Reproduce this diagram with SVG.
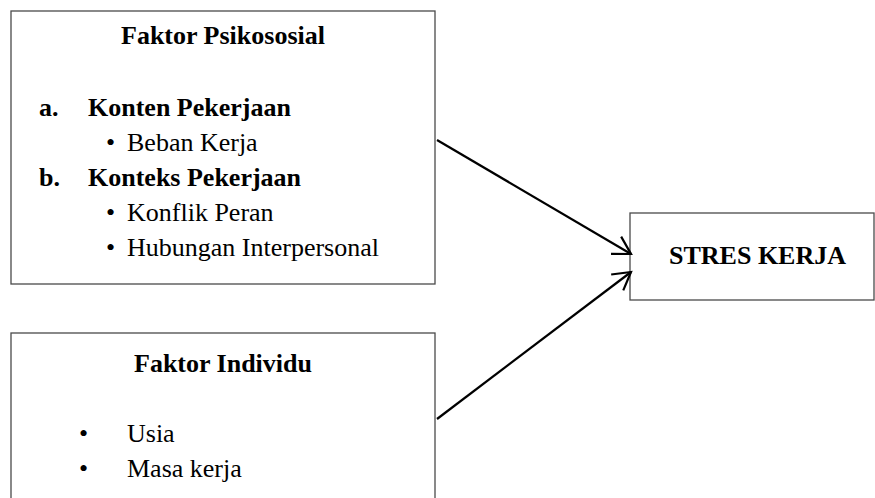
<svg xmlns="http://www.w3.org/2000/svg" width="875" height="498" viewBox="0 0 875 498">
  <style>
    .box { fill: #ffffff; stroke: #4a4a4a; stroke-width: 1.3; }
    .t { font-family: "Liberation Serif", "Times New Roman", serif; font-size: 26px; fill: #000; }
    .b { font-weight: bold; }
    .c { text-anchor: middle; }
    .conn { stroke: #000; stroke-width: 2.2; fill: none; }
  </style>
  <defs>
    <marker id="arr" markerUnits="userSpaceOnUse" markerWidth="40" markerHeight="40" refX="0" refY="0" viewBox="-20 -20 40 40" orient="auto" overflow="visible">
      <path d="M-17.3,-10 L0,0 L-17.3,10" fill="none" stroke="#000" stroke-width="2.2" stroke-linejoin="miter"/>
    </marker>
  </defs>
  <rect width="875" height="498" fill="#ffffff"/>

  <g id="faktor-psikososial">
    <rect class="box" x="11" y="11" width="424" height="273"/>
    <text class="t b c" x="223" y="44">Faktor Psikososial</text>
    <text class="t b" x="39" y="116">a.</text>
    <text class="t b" x="88" y="116">Konten Pekerjaan</text>
    <text class="t" x="106" y="151">•</text>
    <text class="t" x="127" y="151">Beban Kerja</text>
    <text class="t b" x="39" y="186">b.</text>
    <text class="t b" x="88" y="186">Konteks Pekerjaan</text>
    <text class="t" x="106" y="221">•</text>
    <text class="t" x="127" y="221">Konflik Peran</text>
    <text class="t" x="106" y="256">•</text>
    <text class="t" x="127" y="256">Hubungan Interpersonal</text>
  </g>

  <g id="faktor-individu">
    <rect class="box" x="11" y="333" width="424" height="200"/>
    <text class="t b c" x="223" y="372">Faktor Individu</text>
    <text class="t" x="79" y="442">•</text>
    <text class="t" x="127" y="442">Usia</text>
    <text class="t" x="79" y="477">•</text>
    <text class="t" x="127" y="477">Masa kerja</text>
  </g>

  <g id="stres-kerja">
    <rect class="box" x="630" y="213" width="244" height="87"/>
    <text class="t b" x="669" y="264">STRES KERJA</text>
  </g>

  <g id="connectors">
    <line class="conn" x1="437" y1="140" x2="631" y2="254" marker-end="url(#arr)"/>
    <line class="conn" x1="437" y1="419" x2="631" y2="272" marker-end="url(#arr)"/>
  </g>
</svg>
